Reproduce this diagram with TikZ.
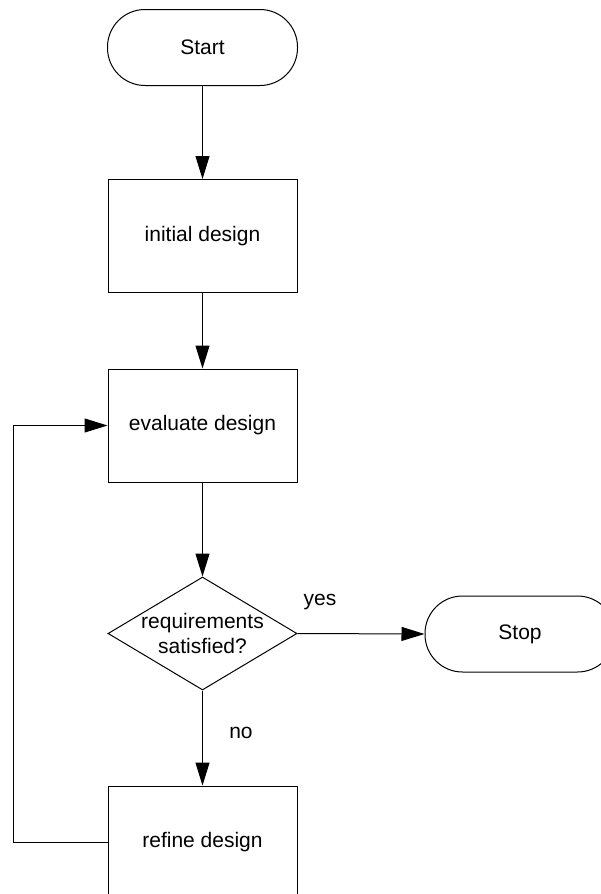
\documentclass[tikz,border=0pt]{standalone}
\usepackage{fontspec}
\setmainfont{Liberation Sans}
\usetikzlibrary{shapes.geometric,arrows.meta}

\tikzset{
  flow/.style={line width=1pt, draw=black},
  terminal/.style={flow, rectangle, rounded corners=37.5pt, minimum width=190pt, minimum height=76pt, inner sep=0pt},
  process/.style={flow, rectangle, minimum width=189pt, minimum height=113pt, inner sep=0pt},
  decision/.style={flow, diamond, minimum width=189pt, minimum height=113pt, inner sep=0pt},
  label/.style={inner sep=0pt, align=center},
  link/.style={line width=1pt, -{Triangle[length=23pt,width=14pt]}},
}

\begin{document}
\begin{tikzpicture}[x=1pt, y=1pt, font=\fontsize{21}{25.5}\selectfont]
  \useasboundingbox (0,0) rectangle (601,-894);
  \clip (0,0) rectangle (601,-894);

  % main column
  \node[terminal] (start) at (202.5,-47.5) {Start};
  \node[process]  (init)  at (202.5,-236)  {initial design};
  \node[process]  (eval)  at (202.5,-425.5) {evaluate design};
  \node[decision] (dec)   at (202.5,-633.5) {};
  \node[label]    (dectext) at (202.5,-633.5) {requirements\\satisfied?};
  \node[process]  (refine) at (202.5,-842.5) {refine design};

  % exit
  \node[terminal] (stop) at (520,-634) {Stop};

  % connectors
  \draw[link] (start) -- (init);
  \draw[link] (init) -- (eval);
  \draw[link] (eval) -- (dec);
  \draw[link] (dec.east) -- (stop.west);
  \draw[link] (dec.south) -- (refine.north);
  \draw[link] (refine.west) -- ++(-94,0) |- (eval.west);

  % branch labels
  \node[label] (yes) at (320,-602) {yes};
  \node[label] (no)  at (241,-733) {no};
\end{tikzpicture}
\end{document}
